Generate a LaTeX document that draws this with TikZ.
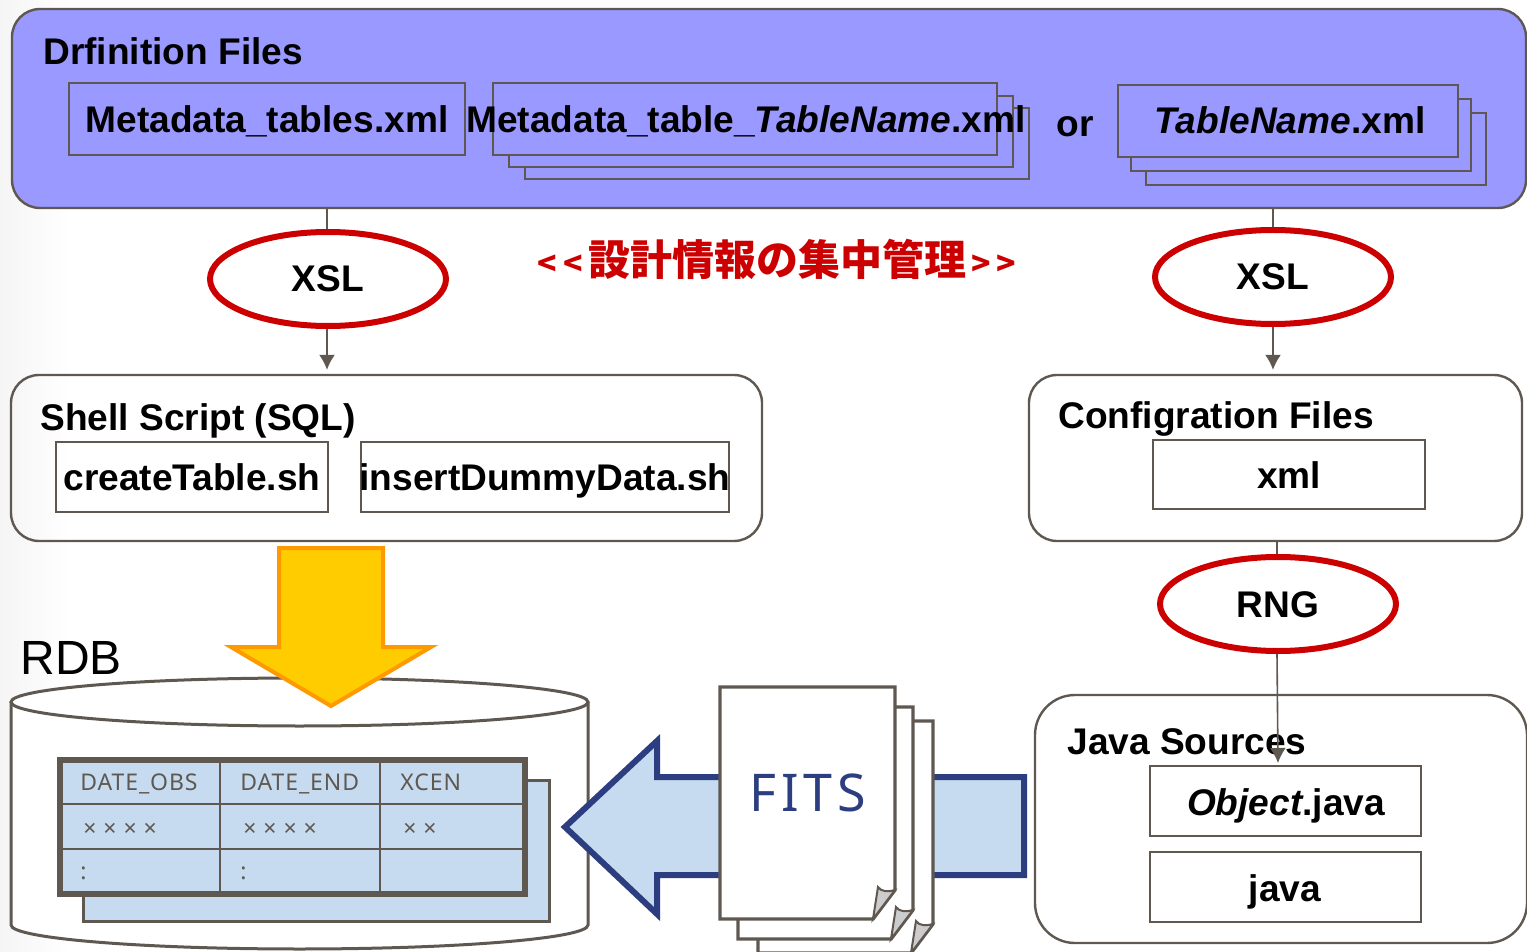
\documentclass[tikz,border=0pt]{standalone}
\usepackage{fontspec}
\setmainfont{Liberation Sans}
\newfontfamily\cjkfont{Noto Sans CJK JP}
\newfontfamily\handfont[LetterSpace=4]{Noto Sans}
\newfontfamily\bighand[LetterSpace=9]{Noto Sans}
\usetikzlibrary{arrows.meta,fit,shapes.geometric}
\definecolor{linegray}{HTML}{5F5850}
\definecolor{panelblue}{HTML}{9999FF}
\definecolor{paleblue}{HTML}{C6DBF0}
\definecolor{navy}{HTML}{2C3E80}
\definecolor{xslred}{HTML}{CC0000}
\definecolor{arrowyellow}{HTML}{FFCC00}
\definecolor{arroworange}{HTML}{FF9900}
\tikzset{
  panelbox/.style={draw=linegray,line width=1.2pt,rounded corners=14pt,inner sep=0pt},
  filebox/.style={draw=linegray,line width=1.2pt,inner sep=0pt},
  label/.style={font=\fontsize{18.55}{20}\selectfont\bfseries,inner sep=0pt,text height=13pt,text depth=0pt},
  xslnode/.style={draw=xslred,line width=3pt,fill=white,ellipse,inner sep=0pt,text height=13pt,text depth=0pt,
    minimum width=118pt,minimum height=47pt,font=\fontsize{18.55}{20}\selectfont\bfseries},
  cell/.style={font=\handfont\fontsize{11.5}{12}\selectfont,text=linegray,inner sep=0pt,anchor=west,text height=8pt,text depth=0pt},
  link/.style={draw=linegray,line width=0.8pt},
  linkarrow/.style={link,-{Latex[length=7.5pt,width=8pt]}},
}
\begin{document}
\begin{tikzpicture}[x=0.5pt,y=-0.5pt]
  \useasboundingbox (0,0) rectangle (1527,952);
  \shade [left color=black!4,right color=white] (0,0) rectangle (70,952);
  % top panel
  \node [panelbox,fill=panelblue,fit={(12,9) (1526,208)}] (definition) {};
  \node [label,anchor=west] (definitionname) at (43,52) {Drfinition Files};
  \node [filebox,fit={(69,83) (465,155)}] (tables) {};
  \node [label] (tablesname) at (267,120) {Metadata\_tables.xml};
  \node [filebox,fit={(525,108) (1029,179)}] (tablethree) {};
  \node [filebox,fill=panelblue,fit={(509,96) (1013,167)}] (tabletwo) {};
  \node [filebox,fill=panelblue,fit={(493,83) (997,155)}] (tableone) {};
  \node [label] (tableonename) at (746,120) {Metadata\_table\_\textit{TableName}.xml};
  \node [label] (orname) at (1075,124) {or};
  \node [filebox,fit={(1146,113) (1486,185)}] (namethree) {};
  \node [filebox,fill=panelblue,fit={(1131,99) (1471,171)}] (nametwo) {};
  \node [filebox,fill=panelblue,fit={(1118,85) (1458,157)}] (nameone) {};
  \node [label] (nameonename) at (1290,121) {\textit{TableName}.xml};
  % middle row
  \node [xslnode] (xslleft) at (328,279) {XSL};
  \node [xslnode] (xslright) at (1273,277) {XSL};
  \node [inner sep=0pt,text=xslred,font=\cjkfont\fontsize{21}{22}\selectfont\bfseries] (central) at (777,259) {{\fontsize{16}{16}\selectfont<\hspace{3.2pt}<\hspace{2.5pt}}設計情報の集中管理{\fontsize{16}{16}\selectfont\hspace{2.5pt}>\hspace{3.2pt}>}};
  \node [panelbox,fit={(11,375) (762,541)}] (shell) {};
  \node [label,anchor=west] (shellname) at (40,417) {Shell Script (SQL)};
  \node [filebox,fit={(56,442) (328,512)}] (create) {};
  \node [label] (createname) at (192,477) {createTable.sh};
  \node [filebox,fit={(361,442) (729,512)}] (insert) {};
  \node [label] (insertname) at (545,477) {insertDummyData.sh};
  \node [panelbox,fit={(1029,375) (1522,541)}] (config) {};
  \node [label,anchor=west] (configname) at (1058,416) {Configration Files};
  \node [filebox,fit={(1153,440) (1425,509)}] (xmlfile) {};
  \node [label] (xmlname) at (1289,475) {xml};
  \node [xslnode] (rng) at (1278,604) {RNG};
  \draw [link] ([xshift=-0.5pt]xslleft.north |- definition.south) -- ([xshift=-0.5pt]xslleft.north);
  \draw [linkarrow] ([xshift=-0.5pt]xslleft.south) -- ([xshift=-0.5pt,yshift=2pt]xslleft.south |- shell.north);
  \draw [link] (xslright.north |- definition.south) -- (xslright.north);
  \draw [linkarrow] (xslright.south) -- ([yshift=2pt]xslright.south |- config.north);
  \draw [link] ([xshift=-0.5pt]rng.north |- config.south) -- ([xshift=-0.5pt]rng.north);
  % database
  \node [inner sep=0pt,anchor=west,font=\fontsize{24}{25}\selectfont] (rdb) at (20,658) {RDB};
  \draw [linegray,line width=1.5pt,fill=white] (11,702) -- (11,925) arc [start angle=180,end angle=360,x radius=288.5,y radius=-24] -- (588,702);
  \node [draw=linegray,line width=1.5pt,fill=white,ellipse,inner sep=0pt,minimum width=288.5pt,minimum height=24pt] (rdbtop) at (299.5,702) {};
  \node [draw=linegray,line width=1.5pt,fill=paleblue,inner sep=0pt,fit={(83,780) (549,921)}] (sheetback) {};
  \node [draw=linegray,line width=3pt,fill=paleblue,inner sep=0pt,fit={(60,760) (525,894)}] (sheet) {};
  \foreach \cx in {220,380} \draw [linegray,line width=1.2pt] (\cx,760) -- (\cx,894);
  \foreach \cy in {804,849} \draw [linegray,line width=1.2pt] (60,\cy) -- (525,\cy);
  \node [cell] (dateobs) at (80,782) {DATE\_OBS};
  \node [cell] (dateend) at (240,782) {DATE\_END};
  \node [cell] (xcen) at (400,782) {XCEN};
  \node [cell] (rowa) at (83,828) {× × × ×};
  \node [cell] (rowb) at (243,828) {× × × ×};
  \node [cell] (rowc) at (403,828) {× ×};
  \node [cell] (dotsa) at (80,871) {:};
  \node [cell] (dotsb) at (240,871) {:};
  % big arrows
  \draw [fill=paleblue,draw=navy,line width=3pt] (565,827) -- (657,741) -- (657,777) -- (1024,777) -- (1024,875) -- (657,875) -- (657,914) -- cycle;
  \draw [fill=arrowyellow,draw=arroworange,line width=2pt] (279,548) -- (383,548) -- (383,647) -- (431,647) -- (331,706) -- (231,647) -- (279,647) -- cycle;
  % fits pages
  \foreach \dx/\dy in {38/34,18/20,0/0}{
    \begin{scope}[shift={(\dx,\dy)}]
      \draw [linegray,line width=1.7pt,fill=white] (720,687) -- (895,687) -- (895,890) -- (873,919) -- (720,919) -- cycle;
      \draw [linegray,line width=1pt,fill=black!20] (873,919) -- (878,887) .. controls (881,892) and (889,892) .. (895,890) -- cycle;
    \end{scope}
  }
  \node [inner sep=0pt,text=navy,font=\bighand\fontsize{26}{28}\selectfont] (fits) at (808,793) {FITS};
  % java
  \node [panelbox,rounded corners=20pt,fit={(1035,695) (1527,943)}] (java) {};
  \node [label,anchor=west] (javaname) at (1067,741) {Java Sources};
  \node [filebox,fit={(1150,766) (1421,836)}] (objectfile) {};
  \node [label] (objectname) at (1286,802) {\textit{Object}.java};
  \node [filebox,fit={(1150,852) (1421,922)}] (javafile) {};
  \node [label] (javafilename) at (1285,888) {java};
  \coordinate (javaend) at (1278,763);
  \draw [linkarrow] ([xshift=-0.5pt]rng.south) -- (javaend);
\end{tikzpicture}
\end{document}
